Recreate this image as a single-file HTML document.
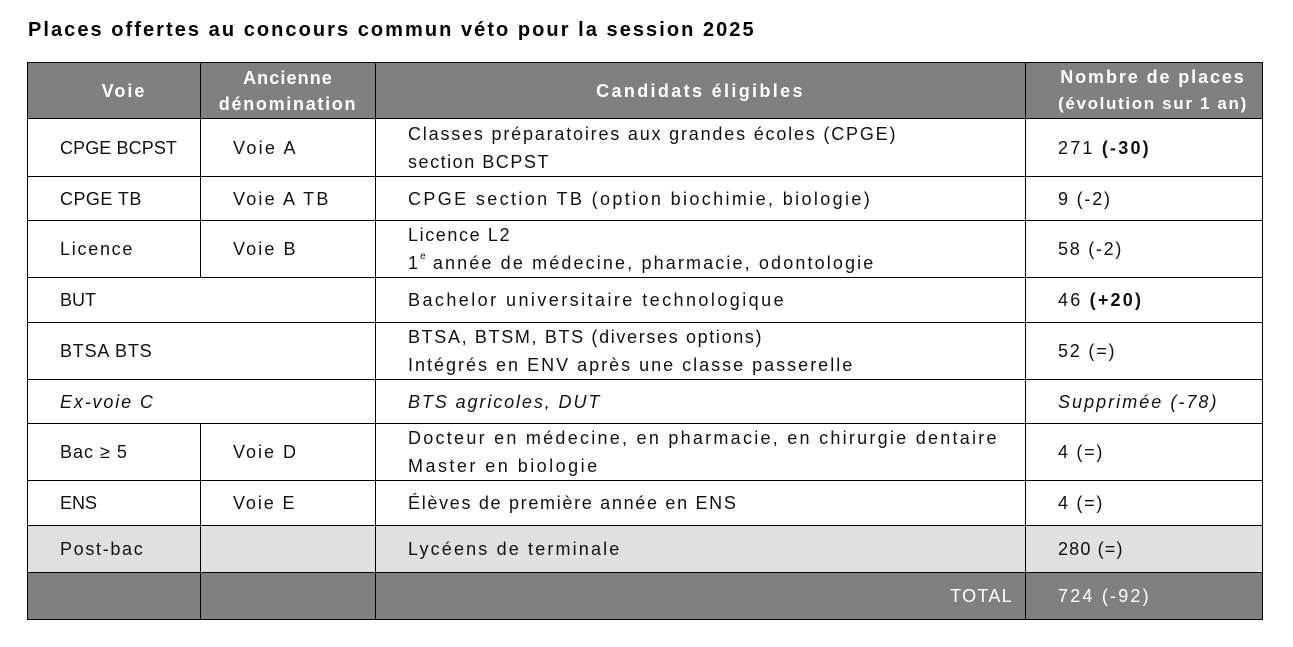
<!DOCTYPE html>
<html><head><meta charset="utf-8">
<style>
html,body{margin:0;padding:0;background:#fff;}
body{width:1293px;height:647px;position:relative;overflow:hidden;font-family:"Liberation Sans",sans-serif;color:#111;}
.title{position:absolute;left:28px;top:19px;font-size:20px;font-weight:bold;letter-spacing:2.05px;white-space:nowrap;color:#000;}
table{position:absolute;left:27px;top:62px;border-collapse:collapse;table-layout:fixed;width:1235px;}
td,th{border:1px solid #000;padding:0;font-size:18px;letter-spacing:2px;line-height:28px;vertical-align:middle;white-space:nowrap;}
td{padding-left:32px;}
th{background:#808080;color:#fff;font-weight:bold;letter-spacing:2px;line-height:26px;text-align:center;}
.gray td{background:#e0e0e0;}
.tot td{background:#808080;color:#fff;}
i{font-style:italic;}
b{font-weight:bold;}
sup{font-size:10px;vertical-align:top;line-height:10px;position:relative;top:3px;letter-spacing:0;}
</style></head><body>
<div class="title">Places offertes au concours commun véto pour la session 2025</div>
<table>
<colgroup><col style="width:173px"><col style="width:175px"><col style="width:650px"><col style="width:237px"></colgroup>
<tr style="height:56px"><th style="padding-left:20px">Voie</th><th><span style="letter-spacing:1.1px">Ancienne</span><br><span style="letter-spacing:1.7px">dénomination</span></th><th style="letter-spacing:2.35px">Candidats éligibles</th><th style="padding-left:18px"><span style="letter-spacing:1.9px">Nombre de places</span><br><span style="font-size:17px;letter-spacing:1.65px">(évolution sur 1 an)</span></th></tr>
<tr style="height:58px"><td style="letter-spacing:0.1px">CPGE BCPST</td><td style="letter-spacing:2.3px">Voie A</td><td><span style="letter-spacing:1.81px">Classes préparatoires aux grandes écoles (CPGE)</span><br><span style="letter-spacing:1.53px">section BCPST</span></td><td style="letter-spacing:2.2px">271 <b>(-30)</b></td></tr>
<tr style="height:44px"><td style="letter-spacing:0.44px">CPGE TB</td><td style="letter-spacing:2.2px">Voie A TB</td><td style="letter-spacing:2.37px">CPGE section TB (option biochimie, biologie)</td><td style="letter-spacing:1.8px">9 (-2)</td></tr>
<tr style="height:54px"><td style="letter-spacing:1.73px">Licence</td><td style="letter-spacing:2.1px">Voie B</td><td><span style="letter-spacing:1.6px">Licence L2</span><br><span style="letter-spacing:2.13px">1<sup>e</sup> année de médecine, pharmacie, odontologie</span></td><td style="letter-spacing:1.73px">58 (-2)</td></tr>
<tr style="height:45px"><td colspan="2" style="letter-spacing:0px">BUT</td><td style="letter-spacing:2.44px">Bachelor universitaire technologique</td><td style="letter-spacing:2.2px">46 <b>(+20)</b></td></tr>
<tr style="height:57px"><td colspan="2" style="letter-spacing:0.8px">BTSA BTS</td><td><span style="letter-spacing:1.65px">BTSA, BTSM, BTS (diverses options)</span><br><span style="letter-spacing:2px">Intégrés en ENV après une classe passerelle</span></td><td style="letter-spacing:1.8px">52 (=)</td></tr>
<tr style="height:44px"><td colspan="2" style="letter-spacing:1.85px"><i>Ex-voie C</i></td><td style="letter-spacing:1.9px"><i>BTS agricoles, DUT</i></td><td style="letter-spacing:2.03px"><i>Supprimée (-78)</i></td></tr>
<tr style="height:54px"><td style="letter-spacing:1px">Bac ≥ 5</td><td style="letter-spacing:2px">Voie D</td><td><span style="letter-spacing:2.26px">Docteur en médecine, en pharmacie, en chirurgie dentaire</span><br><span style="letter-spacing:2.47px">Master en biologie</span></td><td style="letter-spacing:1.7px">4 (=)</td></tr>
<tr style="height:45px"><td style="letter-spacing:0px">ENS</td><td style="letter-spacing:1.9px">Voie E</td><td style="letter-spacing:1.69px">Élèves de première année en ENS</td><td style="letter-spacing:1.7px">4 (=)</td></tr>
<tr class="gray" style="height:47px"><td style="letter-spacing:1.67px">Post-bac</td><td></td><td style="letter-spacing:2.15px">Lycéens de terminale</td><td style="letter-spacing:1.15px">280 (=)</td></tr>
<tr class="tot" style="height:47px"><td></td><td></td><td style="text-align:right;padding-right:12px;padding-left:0;letter-spacing:1.3px">TOTAL</td><td style="letter-spacing:2.2px">724 (-92)</td></tr>
</table>
</body></html>
